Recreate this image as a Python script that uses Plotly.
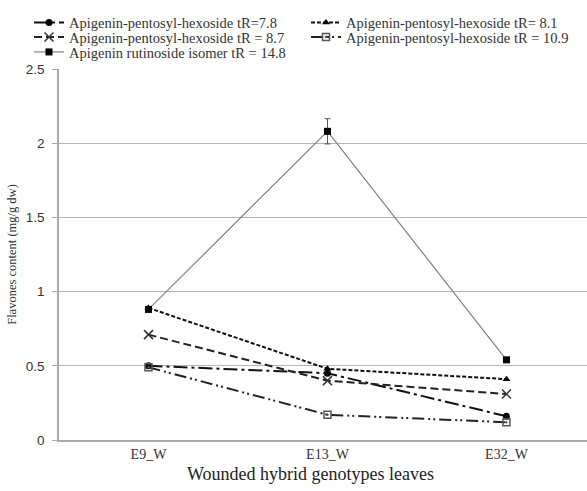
import plotly.graph_objects as go

categories = ["E9_W", "E13_W", "E32_W"]
names = [
    "Apigenin-pentosyl-hexoside tR=7.8",
    "Apigenin-pentosyl-hexoside tR= 8.1",
    "Apigenin-pentosyl-hexoside tR = 8.7",
    "Apigenin-pentosyl-hexoside tR = 10.9",
    "Apigenin rutinoside isomer tR = 14.8",
]
v78 = [0.50, 0.45, 0.16]
v81 = [0.89, 0.48, 0.41]
v87 = [0.71, 0.40, 0.31]
v109 = [0.49, 0.17, 0.12]
v148 = [0.88, 2.08, 0.54]
err148 = [0.0, 0.085, 0.0]

series = [v78, v81, v87, v109, v148]
dashes = ["14px,4px,3px,4px", "4px,2px", "8px,4px", "12px,4px,2px,3px,2px,4px", "solid"]
colors = ["#111111", "#111111", "#222222", "#222222", "#808080"]
widths = [2, 2, 2, 2, 1.2]
symbols = ["circle", "triangle-up", "x-thin-open", "square-open-dot", "square"]
mcolors = ["#000000", "#000000", "#333333", "#555555", "#000000"]
legend_ids = ["legend", "legend2", "legend3", "legend4", "legend5"]

plot_h = 491 - 69 - 51
# legend slot positions (left px, row centre px)
leg_left = [29, 306, 29, 306, 29]
leg_row = [22.5, 22.5, 37, 37, 52]

fig = go.Figure()
for i, (nm, vals) in enumerate(zip(names, series)):
    kw = {}
    if i == 4:
        kw["error_y"] = dict(type="data", array=err148, visible=True, color="#555555", thickness=1, width=3)
    fig.add_trace(go.Scatter(
        x=categories, y=vals, name=nm, mode="lines+markers", legend=legend_ids[i],
        line=dict(color=colors[i], width=widths[i], dash=dashes[i]),
        marker=dict(symbol=symbols[i], size=7 if i != 2 else 9, color=mcolors[i],
                    line=dict(color=mcolors[i], width=1.5 if i in (2, 3) else 0)),
        **kw))

legends = {}
for i, lid in enumerate(legend_ids):
    legends[lid] = dict(orientation="h", x=(leg_left[i] - 59) / 528, y=1 + (69 - leg_row[i]) / plot_h,
                        xanchor="left", yanchor="middle",
                        font=dict(size=14.5, family="Liberation Serif", color="#333333"),
                        itemwidth=30, bgcolor="rgba(0,0,0,0)")

fig.update_layout(
    width=587, height=491,
    margin=dict(l=59, r=0, t=69, b=51),
    paper_bgcolor="white", plot_bgcolor="white",
    font=dict(family="Liberation Serif", size=12, color="#333333"),
    showlegend=True,
    xaxis=dict(range=[-0.5, 2.45], showgrid=False, showline=True, linecolor="#aaaaaa",
               linewidth=1.5, ticks="", tickfont=dict(size=14), automargin=False),
    yaxis=dict(range=[0, 2.5], dtick=0.5, showgrid=True, gridcolor="#b5b5b5", gridwidth=1.2,
               showline=True, linecolor="#aaaaaa", linewidth=1.5, ticks="outside", ticklen=5,
               tickcolor="#aaaaaa", zeroline=False, tickformat="~g", automargin=False,
               ticklabelstandoff=5,
               tickfont=dict(family="Liberation Sans", size=13.5),
               title=dict(text="Flavones content (mg/g dw)", font=dict(size=12.5), standoff=6)),
    annotations=[dict(text="Wounded hybrid genotypes leaves", xref="paper", yref="paper",
                      x=(310 - 59) / 528, y=-34 / plot_h, xanchor="center", yanchor="middle",
                      showarrow=False, font=dict(size=18, family="Liberation Serif", color="#222222"))],
    **legends,
)

fig.write_html("out.html", config={"displayModeBar": False},
               post_script="document.body.style.margin='0px';")
